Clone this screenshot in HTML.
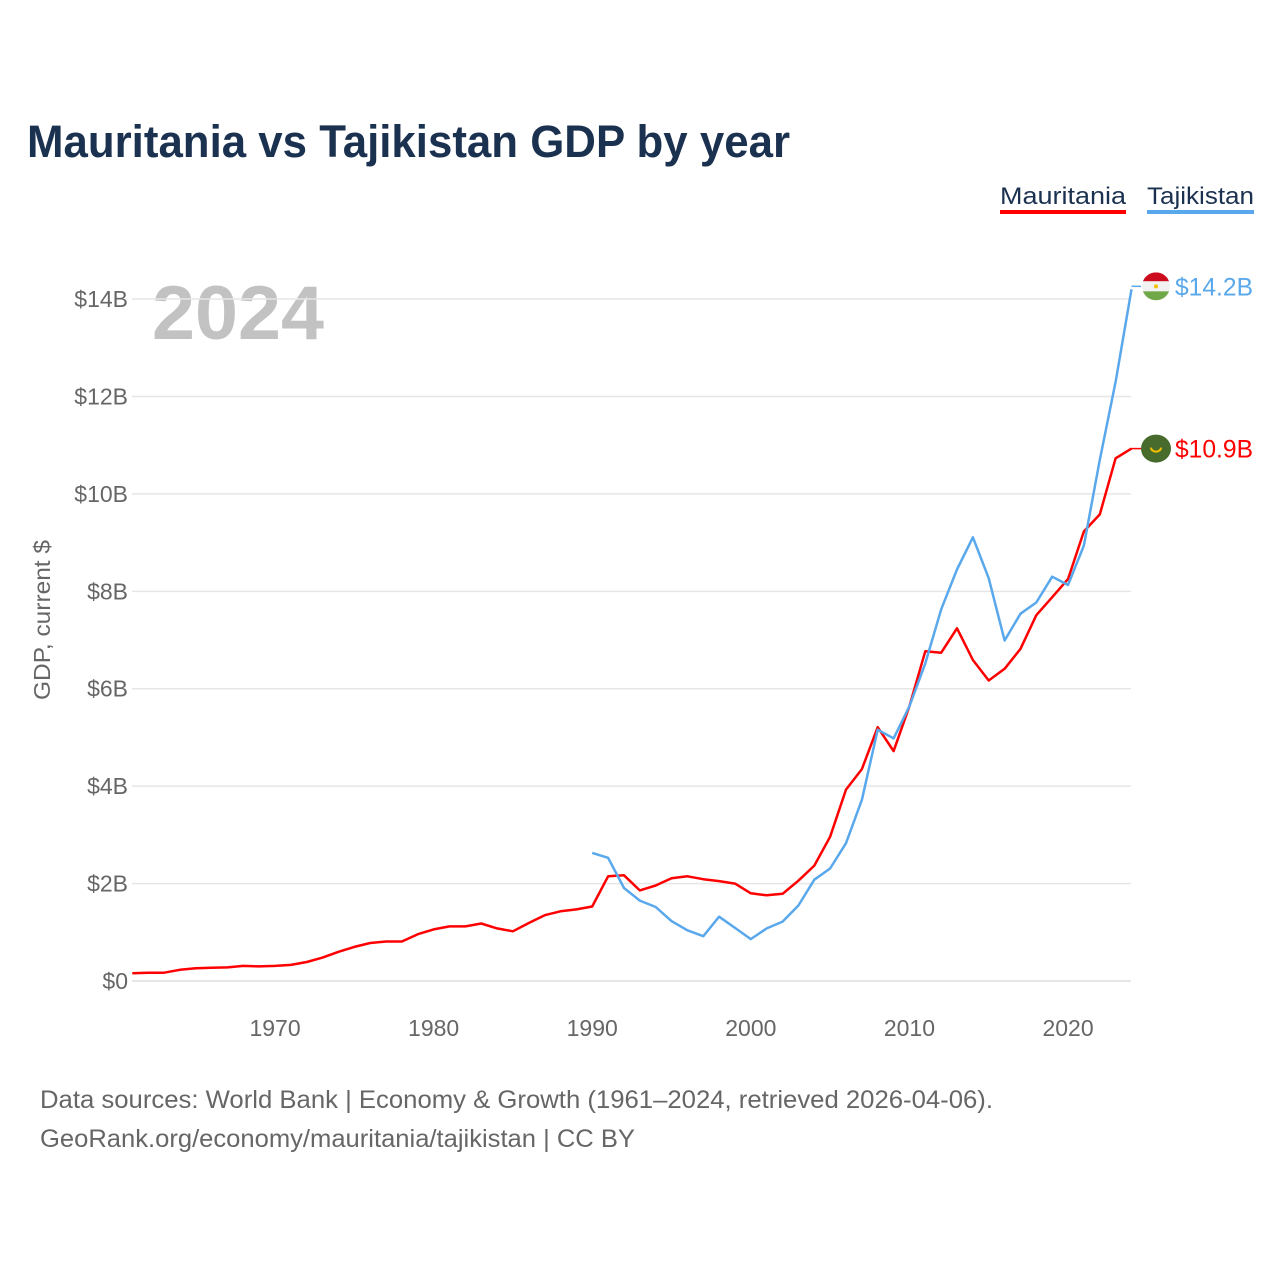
<!DOCTYPE html>
<html><head><meta charset="utf-8"><style>
body{margin:0;background:#fff;font-family:"Liberation Sans",sans-serif;}
svg{display:block}
</style></head><body>
<svg id="chart" width="1280" height="1280" viewBox="0 0 1280 1280">
<text x="27" y="157" font-size="45" font-weight="bold" fill="#1b3150" textLength="763" lengthAdjust="spacingAndGlyphs">Mauritania vs Tajikistan GDP by year</text>
<g>
<text x="1000" y="204" font-size="24" fill="#1b3150" textLength="126" lengthAdjust="spacingAndGlyphs">Mauritania</text>
<rect x="1000" y="210" width="126" height="4" fill="#ff0000"/>
<text x="1147" y="204" font-size="24" fill="#1b3150" textLength="107" lengthAdjust="spacingAndGlyphs">Tajikistan</text>
<rect x="1147" y="210" width="107" height="4" fill="#5aa8ec"/>
</g>
<text x="152" y="339" font-size="76" font-weight="bold" fill="#c2c2c2" textLength="172" lengthAdjust="spacingAndGlyphs">2024</text>
<text transform="translate(50,620) rotate(-90)" text-anchor="middle" font-size="23" fill="#666" textLength="160" lengthAdjust="spacingAndGlyphs">GDP, current $</text>
<g id="grid"></g><g id="lines"></g><g id="ends"></g>
<text x="40" y="1108" font-size="25" fill="#666" textLength="953" lengthAdjust="spacingAndGlyphs">Data sources: World Bank | Economy &amp; Growth (1961–2024, retrieved 2026-04-06).</text>
<text x="40" y="1147" font-size="25" fill="#666" textLength="595" lengthAdjust="spacingAndGlyphs">GeoRank.org/economy/mauritania/tajikistan | CC BY</text>
</svg>
<script>
const yTicks=[0,2,4,6,8,10,12,14];
const xTicks=[1970,1980,1990,2000,2010,2020];
const mauStart=1961;
const mauritania=[0.16,0.17,0.17,0.23,0.26,0.27,0.28,0.31,0.30,0.31,0.33,0.39,0.48,0.60,0.70,0.78,0.81,0.81,0.96,1.06,1.12,1.12,1.18,1.08,1.02,1.19,1.35,1.43,1.47,1.53,2.15,2.17,1.86,1.96,2.11,2.15,2.09,2.05,2.00,1.80,1.76,1.79,2.06,2.37,2.96,3.93,4.35,5.21,4.72,5.64,6.77,6.74,7.24,6.59,6.17,6.41,6.82,7.51,7.88,8.25,9.23,9.58,10.73,10.93];
const tajStart=1990;
const tajikistan=[2.63,2.53,1.91,1.65,1.52,1.23,1.04,0.92,1.32,1.09,0.86,1.08,1.22,1.55,2.08,2.31,2.83,3.72,5.16,4.98,5.64,6.52,7.63,8.45,9.11,8.27,6.99,7.54,7.77,8.30,8.13,8.94,10.7,12.3,14.2];
const NS="http://www.w3.org/2000/svg";
const X=yr=>132.3+(yr-1961)*15.86;
const Y=v=>981-v*48.71;
function mk(tag,attrs,parent){const e=document.createElementNS(NS,tag);for(const k in attrs)e.setAttribute(k,attrs[k]);parent.appendChild(e);return e;}
const grid=document.getElementById('grid');
yTicks.forEach(t=>{
 const l=mk('line',{x1:132,x2:1131,y1:Y(t),y2:Y(t),stroke:'#e6e6e6','stroke-width':(t===0?2:1.5)},grid);
 
 
 const tx=mk('text',{x:128,y:Y(t)+8,'text-anchor':'end','font-size':23,fill:'#666'},grid);
 tx.textContent='$'+t+(t?'B':'');
 
 
});
xTicks.forEach(t=>{
 const tx=mk('text',{x:X(t),y:1036,'text-anchor':'middle','font-size':23,fill:'#666'},grid);
 tx.textContent=t;
 
 
});
const lines=document.getElementById('lines');
function draw(data,start,color,name){
 const pts=data.map((v,i)=>X(start+i).toFixed(1)+','+Y(v).toFixed(1)).join(' ');
 const p=mk('polyline',{points:pts,fill:'none',stroke:color,'stroke-width':2.5,'stroke-linejoin':'round'},lines);
 
 
}
draw(mauritania,mauStart,'#ff0000','mauritania-line');
draw(tajikistan,tajStart,'#5aa8ec','tajikistan-line');
const ends=document.getElementById('ends');
function endLabel(v,yr,color,name,flag,dy){
 const y=Y(v)+dy;
 mk('line',{x1:X(yr),x2:1141,y1:y,y2:y,stroke:color,'stroke-width':1.5},ends);
 const g=mk('g',{},ends);
 
 
 if(flag==='tj'){
  mk('clipPath',{id:'cf'},g);
  const cp=g.lastChild;mk('circle',{cx:1156,cy:y,r:14},cp);
  mk('rect',{x:1142,y:y-14,width:28,height:9,fill:'#cc0b1f','clip-path':'url(#cf)'},g);
  mk('rect',{x:1142,y:y-5,width:28,height:10,fill:'#f2f2f2','clip-path':'url(#cf)'},g);
  mk('rect',{x:1142,y:y+5,width:28,height:9,fill:'#70a848','clip-path':'url(#cf)'},g);
  mk('circle',{cx:1156,cy:y,r:2,fill:'#f3c000'},g);
 } else {
  mk('ellipse',{cx:1156,cy:y,rx:15,ry:14,fill:'#476b2c'},g);
  mk('path',{d:`M1151 ${y-1} a5 4 0 0 0 10 0`,fill:'none',stroke:'#f3c000','stroke-width':2},g);
 }
 const t=mk('text',{x:1175,y:y+9,'font-size':25,fill:color,textLength:78,lengthAdjust:'spacingAndGlyphs'},ends);
 t.textContent='$'+v.toFixed(1)+'B';
 
 
}
endLabel(tajikistan[tajikistan.length-1],tajStart+tajikistan.length-1,'#5aa8ec','tajikistan','tj',-3);
endLabel(mauritania[mauritania.length-1],mauStart+mauritania.length-1,'#ff0000','mauritania','mr',0);
</script>
</body></html>
